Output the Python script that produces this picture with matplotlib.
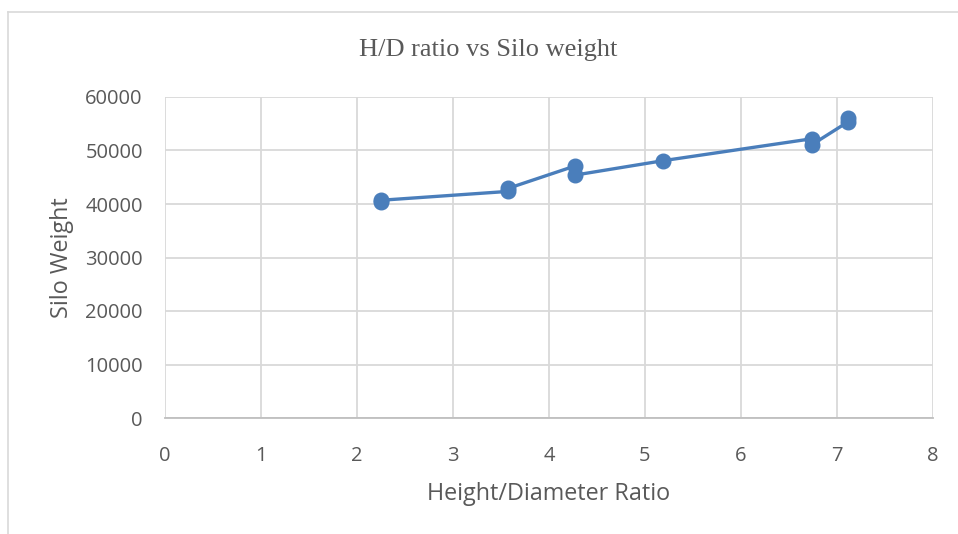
import matplotlib.pyplot as plt
from matplotlib.lines import Line2D

# data
hd_ratio = [2.25, 2.25, 3.57, 3.57, 4.27, 4.27, 5.19, 6.74, 6.74, 7.11, 7.11]
silo_weight = [40300, 40700, 42350, 42900, 47100, 45400, 48100, 52200, 51100, 55300, 56100]

x_ticks = [0, 1, 2, 3, 4, 5, 6, 7, 8]
y_ticks = [0, 10000, 20000, 30000, 40000, 50000, 60000]

W, H = 958, 534
fig = plt.figure(figsize=(W / 100, H / 100), dpi=100)

# chart area border, cropped at right and bottom
border_top = 1 - 12 / H
fig.add_artist(Line2D([8 / W, 8 / W], [0, border_top], transform=fig.transFigure,
                      color="#d9d9d9", linewidth=1.2))
fig.add_artist(Line2D([8 / W, 1], [border_top, border_top], transform=fig.transFigure,
                      color="#d9d9d9", linewidth=1.2))

ax = fig.add_axes([165 / W, 1 - 418 / H, (933 - 165) / W, (418 - 97) / H])

ax.plot(hd_ratio, silo_weight, color="#4a7ebb", linewidth=2.4,
        marker="o", markersize=10.5, zorder=3, clip_on=False)

ax.set_xlim(0, 8)
ax.set_ylim(0, 60000)
ax.set_xticks(x_ticks)
ax.set_yticks(y_ticks)
ax.grid(True, color="#d9d9d9", linewidth=1.3)
ax.set_axisbelow(True)
for side in ["top", "right", "left"]:
    ax.spines[side].set_visible(False)
ax.spines["bottom"].set_color("#bfbfbf")
ax.spines["bottom"].set_linewidth(1.3)
ax.tick_params(length=0, labelsize=14.5, labelcolor="#595959")
ax.tick_params(axis="x", pad=20)
ax.tick_params(axis="y", pad=16)
for lab in ax.get_xticklabels() + ax.get_yticklabels():
    lab.set_family("Open Sans")

ax.set_xlabel("Height/Diameter Ratio", fontsize=16.8, color="#595959",
              family="Open Sans", labelpad=12)
ax.set_ylabel("Silo Weight", fontsize=16.8, color="#595959",
              family="Open Sans", labelpad=8)

fig.text(488 / W, 1 - 50 / H, "H/D ratio vs Silo weight", ha="center", va="center",
         fontsize=19, color="#595959", family="Liberation Serif")

fig.savefig("out.png", dpi=100)
